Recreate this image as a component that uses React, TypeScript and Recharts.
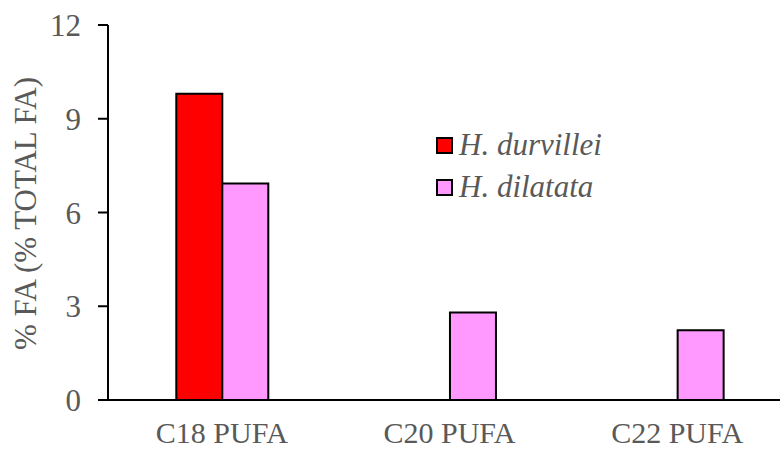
import React from 'react';
import { BarChart, Bar, XAxis, YAxis, Legend, Label } from 'recharts';

const categories = ['C18 PUFA', 'C20 PUFA', 'C22 PUFA'];
const durvillei = [9.8, 0, 0];
const dilatata = [6.93, 2.8, 2.23];
const yTicks = [0, 3, 6, 9, 12];
const yTitle = '% FA (% TOTAL FA)';

const seriesNames = ['H. durvillei', 'H. dilatata'];
const seriesColors = ['#ff0000', '#ff99ff'];

const data = categories.map((name, i) => ({
  name,
  durvillei: durvillei[i],
  dilatata: dilatata[i],
}));

const font = "'Liberation Serif', 'Times New Roman', serif";
const textColor = '#595959';

function LegendBox() {
  return (
    <div style={{ fontFamily: font, fontSize: 31, fontStyle: 'italic', color: textColor }}>
      {seriesNames.map((name, i) => (
        <div key={name} style={{ display: 'flex', alignItems: 'center', height: 42 }}>
          <span
            style={{
              display: 'inline-block',
              width: 13,
              height: 13,
              background: seriesColors[i],
              border: '2px solid #000',
              marginRight: 6,
            }}
          />
          <span>{name}</span>
        </div>
      ))}
    </div>
  );
}

function YTitle(props: any) {
  const vb = props.viewBox || { x: 0, y: 0, width: 0, height: 0 };
  const cx = vb.x + 25;
  const cy = vb.y + vb.height / 2 + 1;
  return (
    <text
      x={cx}
      y={cy}
      transform={`rotate(-90, ${cx}, ${cy})`}
      textAnchor="middle"
      dominantBaseline="central"
      fill={textColor}
      style={{ fontFamily: font, fontSize: 31 }}
    >
      {yTitle}
    </text>
  );
}

export default function App() {
  return (
    <div
      style={{
        position: 'fixed',
        top: 0,
        left: 0,
        width: 780,
        height: 451,
        overflow: 'hidden',
        background: '#fff',
      }}
    >
      <BarChart
        width={800}
        height={451}
        data={data}
        margin={{ top: 25, right: 9, left: 0, bottom: 0 }}
        barCategoryGap="30%"
        barGap={0}
      >
        <XAxis
          dataKey="name"
          axisLine={{ stroke: '#000', strokeWidth: 2 }}
          tickLine={false}
          tickSize={0}
          tickMargin={22}
          height={51}
          tick={{ fill: textColor, fontSize: 30, fontFamily: font }}
        />
        <YAxis
          domain={[0, 12]}
          ticks={yTicks}
          width={108}
          axisLine={{ stroke: '#000', strokeWidth: 2 }}
          tickLine={{ stroke: '#000', strokeWidth: 2 }}
          tickSize={10}
          tickMargin={17}
          tick={{ fill: textColor, fontSize: 31, fontFamily: font }}
        >
          <Label content={<YTitle />} />
        </YAxis>
        <Legend
          layout="vertical"
          align="center"
          verticalAlign="middle"
          content={() => <LegendBox />}
          wrapperStyle={{ left: 436, top: 124, width: 220 }}
        />
        <Bar
          dataKey="durvillei"
          name={seriesNames[0]}
          fill={seriesColors[0]}
          stroke="#000"
          strokeWidth={2}
          isAnimationActive={false}
        />
        <Bar
          dataKey="dilatata"
          name={seriesNames[1]}
          fill={seriesColors[1]}
          stroke="#000"
          strokeWidth={2}
          isAnimationActive={false}
        />
      </BarChart>
    </div>
  );
}
